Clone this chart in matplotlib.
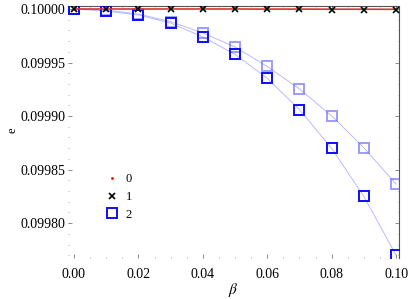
import matplotlib
matplotlib.use("Agg")
import matplotlib.pyplot as plt
from matplotlib.ticker import MultipleLocator, FormatStrFormatter

beta = [0.00, 0.01, 0.02, 0.03, 0.04, 0.05, 0.06, 0.07, 0.08, 0.09, 0.10]
e_series0 = [0.100000, 0.100000, 0.100000, 0.100000, 0.100000, 0.100000,
             0.0999999, 0.0999999, 0.0999998, 0.0999998, 0.0999997]
e_series1 = [0.100000, 0.0999999, 0.0999999, 0.0999999, 0.0999998, 0.0999998,
             0.0999997, 0.0999996, 0.0999995, 0.0999994, 0.0999993]
e_series2 = [0.100000, 0.0999980, 0.0999944, 0.0999868, 0.0999739, 0.0999576,
             0.0999353, 0.0999061, 0.0998698, 0.0998249, 0.0997700]
e_series3 = [0.100000, 0.0999990, 0.0999953, 0.0999882, 0.0999777, 0.0999645,
             0.0999463, 0.0999253, 0.0999002, 0.0998703, 0.0998364]
legend_labels = ["0", "1", "2"]

plt.rcParams['font.family'] = ['Liberation Serif', 'DejaVu Serif']
plt.rcParams['mathtext.fontset'] = 'stix'

fig = plt.figure(figsize=(4.09, 2.99), dpi=100)
ax = fig.add_axes([68/409, 1-258/299, (399-68)/409, (258-6)/299])

ax.plot(beta, e_series3, color=(0.55, 0.55, 1.0), lw=0.7, alpha=0.6, zorder=2)
ax.plot(beta, e_series3, ls='none', marker='s', ms=6.5, mfc='none',
        mec=(0.35, 0.35, 1.0), mew=1.4, alpha=0.6, zorder=3)
ax.plot(beta, e_series2, color=(0.55, 0.55, 1.0), lw=0.7, alpha=0.6, zorder=2)
ax.plot(beta, e_series2, ls='none', marker='s', ms=6.5, mfc='none',
        mec=(0.05, 0.05, 1.0), mew=1.4, zorder=3, label=legend_labels[2])
ax.plot(beta, e_series0, color=(0.85, 0.2, 0.2), lw=1.2, zorder=4)
ax.plot(beta, e_series1, ls='none', marker='x', ms=4, mec='black', mew=1.2,
        zorder=5)

# legend drawn with proxy entries
h0, = ax.plot([], [], ls='none', marker='.', ms=2, color='red')
h1, = ax.plot([], [], ls='none', marker='x', ms=4, mec='black', mew=1.2)
h2, = ax.plot([], [], ls='none', marker='s', ms=6.5, mfc='none',
              mec=(0.05, 0.05, 1.0), mew=1.4)
ax.legend([h0, h1, h2], legend_labels, loc='upper left',
          bbox_to_anchor=(0.08, 0.38), frameon=False, fontsize=9,
          handlelength=1.0, handletextpad=0.6, labelspacing=0.45)

ax.set_xlim(-0.00186, 0.1009)
ax.set_ylim(0.0997674, 0.1000028)

ax.xaxis.set_major_locator(MultipleLocator(0.02))
ax.xaxis.set_minor_locator(MultipleLocator(0.005))
ax.yaxis.set_major_locator(MultipleLocator(0.00005))
ax.yaxis.set_minor_locator(MultipleLocator(0.00001))
ax.xaxis.set_major_formatter(FormatStrFormatter('%.2f'))
ax.yaxis.set_major_formatter(FormatStrFormatter('%.5f'))

for side in ['left', 'bottom']:
    ax.spines[side].set_visible(False)
for side in ['top', 'right']:
    ax.spines[side].set_color('#555555')
    ax.spines[side].set_linewidth(0.8)

ax.tick_params(axis='both', which='major', labelsize=10, color='#777777',
               length=3, width=0.6, direction='out', pad=2)
ax.tick_params(axis='both', which='minor', color='#999999', length=1,
               width=0.6, direction='out')
ax.tick_params(axis='x', which='major', pad=7)
ax.tick_params(top=True, right=True, which='both', direction='in')
ax.tick_params(bottom=True, left=True, which='both')

ax.set_xlabel(r'$\beta$', fontsize=11, labelpad=0)
fig.text(12/409, 1-130/299, 'e', fontsize=9, rotation=90,
         ha='center', va='center')

fig.savefig('out.png', dpi=100)
